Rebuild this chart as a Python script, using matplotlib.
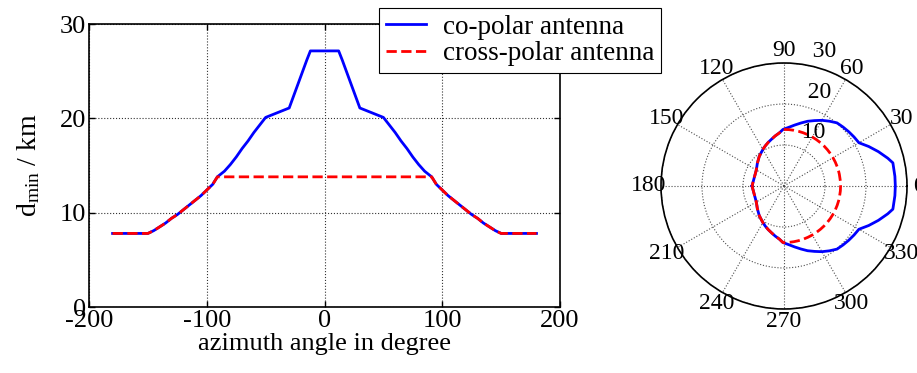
import numpy as np
import matplotlib
matplotlib.use('Agg')
import matplotlib.pyplot as plt

plt.rcParams['font.family'] = ['Liberation Serif', 'DejaVu Serif']
plt.rcParams['mathtext.fontset'] = 'custom'
plt.rcParams['mathtext.rm'] = 'Liberation Serif'
plt.rcParams['mathtext.it'] = 'Liberation Serif:italic'
plt.rcParams['axes.unicode_minus'] = False

# Azimut in Grad und minimaler Abstand in km
azimuth = [-180, -150, -145, -140, -135, -130, -125, -120, -115, -110, -105, -100, -95, -91,
           -85, -80, -75, -70, -65, -60, -55, -50, -45, -40, -35, -30, -25, -20, -15, -12,
           -5, 0, 5, 12, 15, 20, 25, 30, 35, 40, 45, 50, 55, 60, 65, 70, 75, 80, 85,
           91, 95, 100, 105, 110, 115, 120, 125, 130, 135, 140, 145, 150, 180]
d_co = [7.8, 7.8, 8.1, 8.5, 8.9, 9.4, 9.8, 10.3, 10.8, 11.3, 11.8, 12.4, 13.0, 13.8,
        14.4, 15.1, 15.9, 16.8, 17.6, 18.5, 19.3, 20.1, 20.35, 20.6, 20.85, 21.1, 22.8, 24.5, 26.2, 27.15,
        27.15, 27.15, 27.15, 27.15, 26.2, 24.5, 22.8, 21.1, 20.85, 20.6, 20.35, 20.1, 19.3, 18.5, 17.6, 16.8, 15.9, 15.1, 14.4,
        13.8, 13.0, 12.4, 11.8, 11.3, 10.8, 10.3, 9.8, 9.4, 8.9, 8.5, 8.1, 7.8, 7.8]
d_cross = [7.8, 7.8, 8.1, 8.5, 8.9, 9.4, 9.8, 10.3, 10.8, 11.3, 11.8, 12.4, 13.0, 13.8,
           13.8, 13.8, 13.8, 13.8, 13.8, 13.8, 13.8, 13.8, 13.8, 13.8, 13.8, 13.8, 13.8, 13.8, 13.8, 13.8,
           13.8, 13.8, 13.8, 13.8, 13.8, 13.8, 13.8, 13.8, 13.8, 13.8, 13.8, 13.8, 13.8, 13.8, 13.8, 13.8, 13.8, 13.8, 13.8,
           13.8, 13.0, 12.4, 11.8, 11.3, 10.8, 10.3, 9.8, 9.4, 8.9, 8.5, 8.1, 7.8, 7.8]

xticks = [-200, -100, 0, 100, 200]
yticks = [0, 10, 20, 30]
theta_ticks = list(range(0, 360, 30))
r_ticks = [10, 20, 30]

fig = plt.figure(figsize=(9.17, 3.73), dpi=100)

# linke Achse: d_min ueber Azimut
ax = fig.add_axes([0.0971, 0.1769, 0.5136, 0.7587])
l1, = ax.plot(azimuth, d_co, color='blue', lw=2, label='co-polar antenna')
l2, = ax.plot(azimuth, d_cross, color='red', lw=2, ls='--', label='cross-polar antenna')
ax.set_xlim(-200, 200)
ax.set_ylim(0, 30)
ax.set_xticks(xticks)
ax.set_yticks(yticks)
ax.tick_params(direction='in', top=True, right=True, labelsize=19, length=4, width=1, pad=2)
ax.grid(True, ls=':', color='0.2', lw=0.8)
for s in ax.spines.values():
    s.set_linewidth(1.2)
ax.set_xlabel('azimuth angle in degree', fontsize=19, labelpad=1)
ax.set_ylabel(r'd$_{\mathrm{min}}$ / km', fontsize=20, labelpad=13)

leg = fig.legend(handles=[l1, l2], loc='upper left', bbox_to_anchor=(379 / 917, 1 - 8 / 373),
                 borderaxespad=0, fancybox=False, edgecolor='black', framealpha=1,
                 fontsize=19.5, handlelength=1.5, handletextpad=0.6, labelspacing=0.05,
                 borderpad=0.25)
leg.get_frame().set_linewidth(0.8)

# Polardiagramm
pax = fig.add_axes([661 / 917, 64 / 373, 246 / 917, 246 / 373], projection='polar')
th = np.deg2rad(azimuth)
pax.plot(th, d_co, color='blue', lw=2)
pax.plot(th, d_cross, color='red', lw=2, ls='--')
pax.set_rlim(0, 30)
pax.set_thetagrids(theta_ticks, labels=[''] * len(theta_ticks))
pax.set_rgrids(r_ticks, labels=[''] * len(r_ticks))
pax.grid(True, ls=':', color='0.3', lw=0.8)
pax.spines['polar'].set_linewidth(1.2)
for a in theta_ticks:
    pax.text(np.deg2rad(a), 33, str(a), ha='center', va='center', fontsize=17, clip_on=False)
for r in r_ticks:
    pax.text(np.deg2rad(82), r + 0.5, '  ' + str(r), ha='left', va='bottom', fontsize=17,
             clip_on=False)

fig.savefig('out.png', dpi=100)
